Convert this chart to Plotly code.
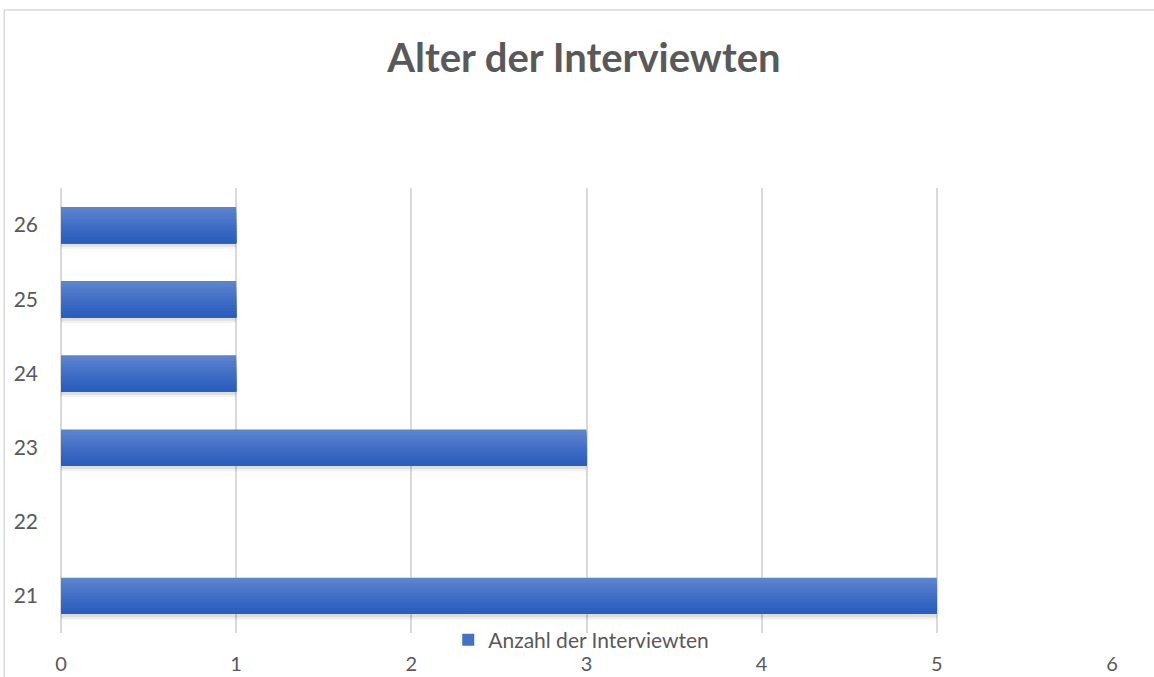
import plotly.graph_objects as go

ages = ["21", "22", "23", "24", "25", "26"]
counts = [5, 0, 3, 1, 1, 1]
x_ticks = [0, 1, 2, 3, 4, 5, 6]
series_name = "Anzahl der Interviewten"
title_text = "Alter der Interviewten"

grey_txt = "#595959"
grid = "#d9d9d9"
font_family = "Lato, 'Open Sans', sans-serif"

# vertical gradient of the bars, top -> bottom
strip_colors = ["#5b84cf", "#5780cd", "#527ccb", "#4e79ca", "#4975c8", "#4471c6",
                "#3f6dc5", "#3a6ac3", "#3566c1", "#3163bf", "#2e60bd", "#2b5ebb"]
bar_w = 0.49
n = len(strip_colors)
sw = bar_w / n

fig = go.Figure()
# soft shadow below the bars
for dy, a in [(0.075, 0.05), (0.045, 0.08)]:
    fig.add_trace(go.Bar(
        y=ages, x=counts, orientation="h", showlegend=False, hoverinfo="skip",
        offset=-bar_w / 2 - dy, width=dy + 0.05,
        marker=dict(color=f"rgba(0,0,0,{a})", line=dict(width=0)),
    ))
# gradient: each layer covers from the bar bottom upward, progressively shorter
for i, c in enumerate(strip_colors):
    fig.add_trace(go.Bar(
        y=ages, x=counts, orientation="h", name=series_name,
        offset=-bar_w / 2, width=bar_w - i * sw,
        marker=dict(color=c, line=dict(width=0)),
        showlegend=(i == 5), hoverinfo="skip" if i != 5 else None,
    ))

fig.update_layout(
    width=1154, height=677, barmode="overlay",
    paper_bgcolor="white", plot_bgcolor="white",
    margin=dict(l=61, r=42, t=188, b=44, autoexpand=False),
    title=dict(text="<b>" + title_text + "</b>", x=0.506, xanchor="center",
               y=1 - 58 / 677, yanchor="middle",
               font=dict(family=font_family, size=40, color=grey_txt)),
    font=dict(family=font_family, color=grey_txt, size=21),
    showlegend=True,
    legend=dict(orientation="h", x=0.495, xanchor="center", y=-0.016, yanchor="middle",
                font=dict(size=21, color=grey_txt), bgcolor="rgba(0,0,0,0)",
                itemwidth=30),
    xaxis=dict(range=[0, 6], tickvals=x_ticks, showgrid=True, gridcolor=grid, gridwidth=1.5,
               zeroline=True, zerolinecolor=grid, zerolinewidth=1.5, showline=False,
               ticks="", ticklabelstandoff=17, fixedrange=True,
               tickfont=dict(size=20)),
    yaxis=dict(type="category", categoryorder="array", categoryarray=ages,
               range=[-0.5, 5.5], showgrid=False, zeroline=False, showline=False,
               ticks="", ticklabelstandoff=22, fixedrange=True),
    shapes=[
        dict(type="line", xref="paper", yref="paper", x0=-0.054, x1=1.2,
             y0=(633 - 10) / 445, y1=(633 - 10) / 445, line=dict(color=grid, width=1.5)),
        dict(type="line", xref="paper", yref="paper", x0=-0.054, x1=-0.054,
             y0=(633 - 10) / 445, y1=-0.2, line=dict(color=grid, width=1.5)),
    ],
)

fig.write_html("out.html", config={"displayModeBar": False},
               post_script="document.body.style.margin='0';")
